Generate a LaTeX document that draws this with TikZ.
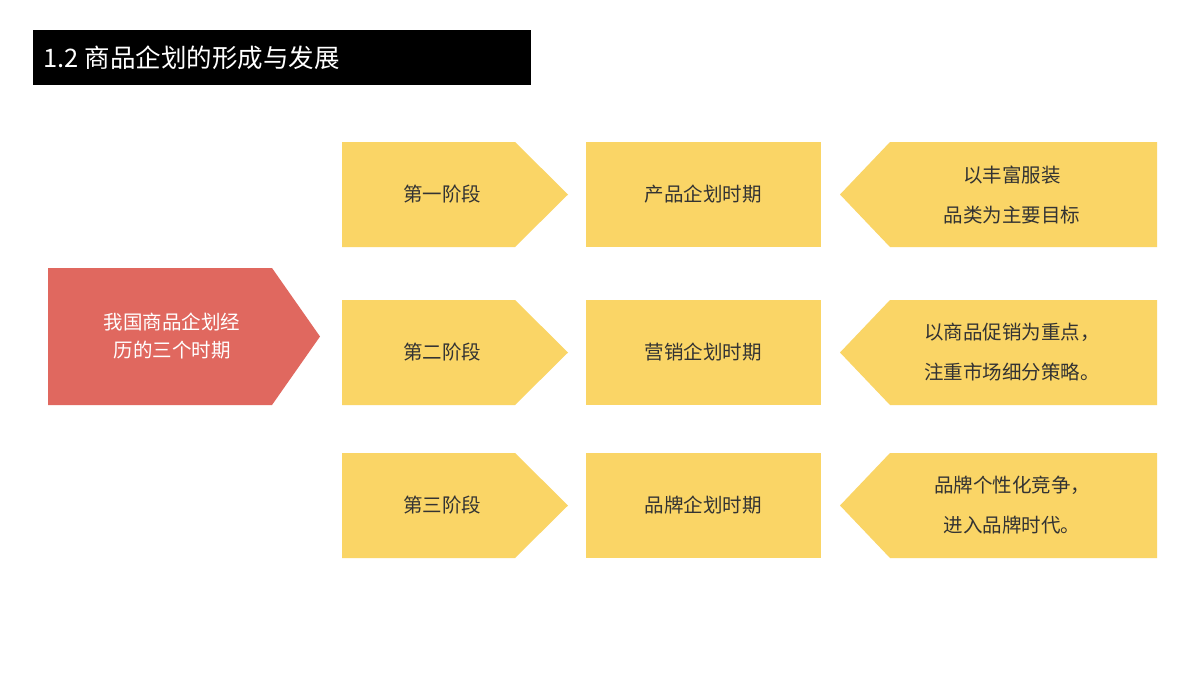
\documentclass[tikz,border=0pt]{standalone}
\usepackage{fontspec}
\setmainfont{Noto Sans CJK SC}
\definecolor{yel}{HTML}{FAD566}
\definecolor{redb}{HTML}{E0685F}
\definecolor{txt}{HTML}{333333}
\begin{document}
\begin{tikzpicture}[x=1pt,y=-1pt,
  lab/.style={font=\fontsize{19.5}{28}\selectfont,text=txt,align=center}]
\useasboundingbox (0,0) rectangle (1200,675);
\fill[white] (0,0) rectangle (1200,675);
\fill[black] (33,30) rectangle (531,85);
\node[anchor=west,text=white,font=\fontsize{25.5}{30}\selectfont] (title) at (40,58) {1.2 商品企划的形成与发展};
\fill[redb] (48,268) -- (272,268) -- (320,336.5) -- (272,405) -- (48,405) -- cycle;
\node[lab,text=white] (main) at (172,336.5) {我国商品企划经\\历的三个时期};
\foreach \y/\a/\b/\c [count=\i] in {142/第一阶段/产品企划时期/{以丰富服装\\品类为主要目标},300/第二阶段/营销企划时期/{以商品促销为重点，\\注重市场细分策略。},453/第三阶段/品牌企划时期/{品牌个性化竞争，\\进入品牌时代。}}{
  \pgfmathsetmacro{\yb}{\y+105}\pgfmathsetmacro{\ym}{\y+52.5}
  \fill[yel] (342,\y) -- (515,\y) -- (568,\ym) -- (515,\yb) -- (342,\yb) -- cycle;
  \node[lab] (s\i) at (442,\ym) {\a};
  \fill[yel] (586,\y) rectangle (821,\yb);
  \node[lab] (p\i) at (703,\ym) {\b};
  \fill[yel] (840,\ym) -- (890,\y) -- (1157,\y) -- (1157,\yb) -- (890,\yb) -- cycle;
  \node[lab,font=\fontsize{19.5}{40}\selectfont] (d\i) at (1012,\ym) {\c};
}
\end{tikzpicture}
\end{document}
